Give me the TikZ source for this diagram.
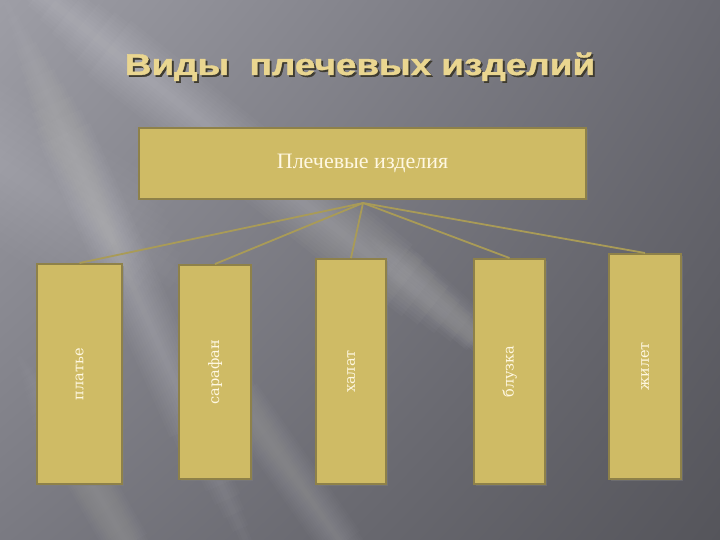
\documentclass[tikz,border=0pt]{standalone}
\usepackage{fontspec}
\usepackage{graphicx}
\setmainfont{Liberation Serif}
\newfontfamily\titlefont{Liberation Sans Bold}[FakeBold=1.2]
\newfontfamily\itemfont{DejaVu Serif}
\usetikzlibrary{shadows,shadings}

\definecolor{bgUL}{HTML}{9E9EA6}
\definecolor{bgUR}{HTML}{6A6A72}
\definecolor{bgLL}{HTML}{7A7A82}
\definecolor{bgLR}{HTML}{55555B}
\definecolor{boxfill}{HTML}{CFBB65}
\definecolor{boxline}{HTML}{8E8149}
\definecolor{txtcol}{HTML}{FFF8E2}
\definecolor{titlecol}{HTML}{EAD690}
\definecolor{titleshadow}{HTML}{3E3B30}
\definecolor{linkcol}{HTML}{A99B57}

\newcommand{\lightband}[6]{% cx, cy, angle (page, clockwise), length, width, opacity per layer
  \begin{scope}[shift={(#1,#2)}, rotate=-#3]
    \foreach \k in {1,...,10}{
      \fill[white, opacity=#6] ({-#4*(1-0.05*\k)/2},{-#5*\k/20}) rectangle ({#4*(1-0.05*\k)/2},{#5*\k/20});
    }
  \end{scope}}

\begin{document}
\begin{tikzpicture}[x=1pt,y=-1pt,
  boxbase/.style={draw=boxline, line width=2pt, fill=boxfill, inner sep=0pt,
    text=txtcol, drop shadow={shadow xshift=1.5pt, shadow yshift=-1.5pt, opacity=0.45}},
  topbox/.style={boxbase, minimum width=447pt, minimum height=71pt,
    font=\fontsize{22}{26}\selectfont},
  itembox/.style={boxbase, font=\itemfont\fontsize{14.5}{18}\selectfont},
  link/.style={draw=linkcol, line width=1.8pt},
  titletext/.style={font=\titlefont\fontsize{30}{34}\selectfont, anchor=base, inner sep=0pt}]

% background
\useasboundingbox (0,0) rectangle (720,540);
\shade[upper left=bgUL, upper right=bgUR, lower left=bgLL, lower right=bgLR] (0,0) rectangle (720,540);
\begin{scope}
\clip (0,0) rectangle (720,540);
\lightband{250}{160}{38.5}{720}{70}{0.022}
\lightband{130}{280}{66}{640}{55}{0.02}
\lightband{290}{470}{55}{360}{45}{0.016}
\lightband{90}{480}{60}{300}{45}{0.016}
\lightband{40}{190}{32}{360}{140}{0.015}
\lightband{440}{300}{42}{200}{40}{0.014}
\end{scope}

% title with its shadow, in one node
\def\titlestr{\scalebox{1.23}[1]{Виды\ \ плечевых изделий}}
\node[titletext] (title) at (360,75)
  {\makebox[0pt][l]{\hspace{1.8pt}\raisebox{-1.8pt}{\color{titleshadow}\titlestr}}\color{titlecol}\titlestr};

% top box
\node[topbox] (top) at (362.5,163.5) {Плечевые изделия};
\coordinate (hub) at (363,203);

% item boxes
\node[itembox, minimum width=85pt, minimum height=220pt] (b1) at (79.5,374) {\rotatebox{90}{платье}};
\node[itembox, minimum width=72pt, minimum height=214pt] (b2) at (215,372) {\rotatebox{90}{сарафан}};
\node[itembox, minimum width=70pt, minimum height=225pt] (b3) at (351,371.5) {\rotatebox{90}{халат}};
\node[itembox, minimum width=71pt, minimum height=225pt] (b4) at (509.5,371.5) {\rotatebox{90}{блузка}};
\node[itembox, minimum width=72pt, minimum height=225pt] (b5) at (645,366.5) {\rotatebox{90}{жилет}};

% connectors
\draw[link] (hub) -- (b1.north);
\draw[link] (hub) -- (b2.north);
\draw[link] (hub) -- (b3.north);
\draw[link] (hub) -- (b4.north);
\draw[link] (hub) -- (b5.north);
\end{tikzpicture}
\end{document}
